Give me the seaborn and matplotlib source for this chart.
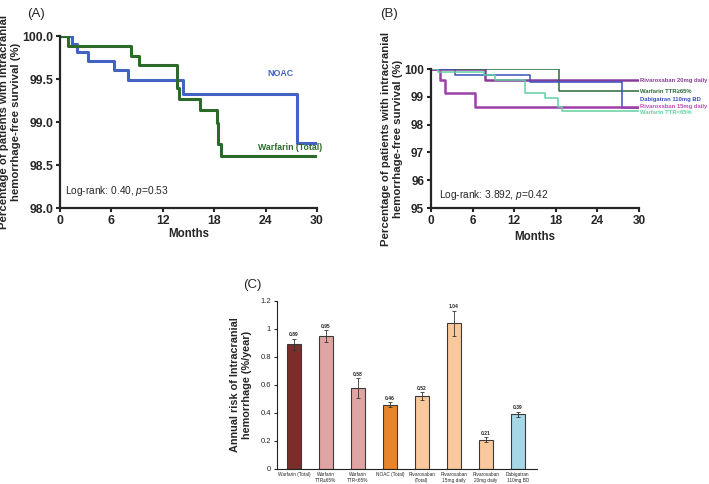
import pandas as pd
import seaborn as sns
import matplotlib.pyplot as plt

sns.set_style('ticks')
plt.rcParams['font.family'] = ['Liberation Sans', 'DejaVu Sans']
plt.rcParams['mathtext.fontset'] = 'custom'
plt.rcParams['mathtext.rm'] = 'Liberation Sans'
plt.rcParams['mathtext.it'] = 'Liberation Sans:italic'
plt.rcParams['mathtext.bf'] = 'Liberation Sans:bold'

# (A) Kaplan-Meier, NOAC vs warfarin
noac_t = [0, 1.4, 1.95, 3.3, 6.3, 7.9, 14.4, 27.7, 30]
noac_s = [100, 99.91, 99.81, 99.71, 99.6, 99.49, 99.32, 98.76, 98.76]
warf_t = [0, 0.9, 8.3, 9.2, 13.7, 13.9, 16.4, 18.3, 18.4, 18.8, 30]
warf_s = [100, 99.88, 99.77, 99.66, 99.4, 99.27, 99.14, 98.99, 98.75, 98.6, 98.6]

# (B) Kaplan-Meier, subgroups
riva20_t = [0, 7.8, 30]
riva20_s = [100, 99.6, 99.6]
warf_hi_t = [0, 18.4, 30]
warf_hi_s = [100, 99.2, 99.2]
dabi_t = [0, 3.4, 14.3, 27.6, 30]
dabi_s = [100, 99.8, 99.55, 98.6, 98.6]
riva15_t = [0, 1.3, 2.0, 6.3, 30]
riva15_s = [100, 99.6, 99.15, 98.62, 98.62]
warf_lo_t = [0, 1.0, 7.6, 9.2, 13.5, 16.5, 18.3, 18.9, 30]
warf_lo_s = [100, 99.88, 99.78, 99.62, 99.15, 98.97, 98.65, 98.49, 98.49]

# (C) annual risk bars
groups = ['Warfarin (Total)', 'Warfarin\nTTR\u226565%', 'Warfarin\nTTR<65%', 'NOAC (Total)',
          'Rivaroxaban\n(Total)', 'Rivaroxaban\n15mg daily', 'Rivaroxaban\n20mg daily',
          'Dabigatran\n110mg BD']
risk = [0.89, 0.95, 0.58, 0.46, 0.52, 1.04, 0.21, 0.39]
risk_err = [0.04, 0.04, 0.07, 0.015, 0.03, 0.09, 0.015, 0.02]
bar_colors = ['#7a2e2c', '#e0a4a3', '#e0a4a3', '#e8852b',
              '#f9c99d', '#f9c99d', '#f9c99d', '#a5d7e6']

fig = plt.figure(figsize=(7.09, 4.84), dpi=100)

ylab = 'Percentage of patients with intracranial\nhemorrhage-free survival (%)'

# ---------- panel A ----------
ax = fig.add_axes([0.0846, 0.5702, 0.3625, 0.3554])
sns.lineplot(x=noac_t, y=noac_s, drawstyle='steps-post', estimator=None, sort=False,
             color='#4262c4', lw=2.2, ax=ax)
sns.lineplot(x=warf_t, y=warf_s, drawstyle='steps-post', estimator=None, sort=False,
             color='#2b6a2b', lw=2.2, ax=ax)
ax.set_xlim(0, 30)
ax.set_ylim(98, 100)
ax.set_xticks([0, 6, 12, 18, 24, 30])
ax.set_yticks([98, 98.5, 99, 99.5, 100])
ax.set_yticklabels(['98.0', '98.5', '99.0', '99.5', '100.0'])
ax.tick_params(labelsize=8.8, width=1.5, length=3, pad=2)
for lab in ax.get_xticklabels() + ax.get_yticklabels():
    lab.set_fontweight('bold')
ax.set_xlabel('Months', fontsize=8.3, fontweight='bold', labelpad=1)
ax.set_ylabel(ylab, fontsize=8.2, fontweight='bold', labelpad=1)
for sp in ['left', 'bottom']:
    ax.spines[sp].set_linewidth(1.6)
sns.despine(ax=ax)
ax.text(24.2, 99.53, 'NOAC', color='#4262c4', fontsize=6.4, fontweight='bold')
ax.text(23.1, 98.67, 'Warfarin (Total)', color='#2b6a2b', fontsize=6.3, fontweight='bold')
ax.text(0.6, 98.16, r'Log-rank: 0.40, $\it{p}$=0.53', fontsize=7.3)
fig.text(0.038, 0.965, '(A)', fontsize=9.5)

# ---------- panel B ----------
bx = fig.add_axes([0.6079, 0.5702, 0.2934, 0.2872])
b_lines = [
    (riva20_t, riva20_s, '#8a3a9a', 1.8),
    (warf_hi_t, warf_hi_s, '#2b6a3a', 1.1),
    (dabi_t, dabi_s, '#3a50bd', 1.1),
    (riva15_t, riva15_s, '#9c3fa8', 1.8),
    (warf_lo_t, warf_lo_s, '#62cfa3', 1.1),
]
for t, s, c, w in b_lines:
    sns.lineplot(x=t, y=s, drawstyle='steps-post', estimator=None, sort=False,
                 color=c, lw=w, ax=bx)
bx.set_xlim(0, 30)
bx.set_ylim(95, 100)
bx.set_xticks([0, 6, 12, 18, 24, 30])
bx.set_yticks([95, 96, 97, 98, 99, 100])
bx.tick_params(labelsize=8.5, width=1.5, length=3, pad=2)
for lab in bx.get_xticklabels() + bx.get_yticklabels():
    lab.set_fontweight('bold')
bx.set_xlabel('Months', fontsize=8.3, fontweight='bold', labelpad=3)
bx.set_ylabel(ylab, fontsize=8.2, fontweight='bold', labelpad=1)
for sp in ['left', 'bottom']:
    bx.spines[sp].set_linewidth(1.6)
sns.despine(ax=bx)
b_labels = [('Rivaroxaban 20mg daily', 99.6, '#8a3a9a'),
            ('Warfarin TTR\u226565%', 99.2, '#2b6a3a'),
            ('Dabigatran 110mg BD', 98.9, '#3a50bd'),
            ('Rivaroxaban 15mg daily', 98.64, '#c24cb8'),
            ('Warfarin TTR<65%', 98.44, '#62cfa3')]
for txt, yv, c in b_labels:
    bx.text(30.2, yv, txt, color=c, fontsize=4.2, fontweight='bold', va='center',
            clip_on=False)
bx.text(1.2, 95.35, r'Log-rank: 3.892, $\it{p}$=0.42', fontsize=7.3)
fig.text(0.536, 0.965, '(B)', fontsize=9.5)

# ---------- panel C ----------
cx = fig.add_axes([0.3907, 0.031, 0.3667, 0.3471])
df_c = pd.DataFrame({'group': groups, 'risk': risk})
sns.barplot(data=df_c, x='group', y='risk', hue='group', palette=bar_colors,
            legend=False, width=0.42, saturation=1, edgecolor='#3a3a3a',
            linewidth=0.8, ax=cx)
cx.errorbar(range(len(groups)), risk, yerr=risk_err, fmt='none', ecolor='#333333',
            elinewidth=0.6, capsize=1.2, capthick=0.6)
for i, (v, e) in enumerate(zip(risk, risk_err)):
    cx.text(i, v + e + 0.01, f'{v:.2f}', ha='center', va='bottom', fontsize=3.6,
            fontweight='bold')
cx.set_xlim(-0.53, 7.6)
cx.set_ylim(0, 1.2)
cx.set_yticks([0, 0.2, 0.4, 0.6, 0.8, 1.0, 1.2])
cx.set_yticklabels(['0', '0.2', '0.4', '0.6', '0.8', '1', '1.2'])
cx.tick_params(axis='y', labelsize=5.5, width=0.8, length=2.5, pad=2)
cx.tick_params(axis='x', labelsize=3.4, length=0, pad=2)
cx.set_xlabel('')
cx.set_ylabel('Annual risk of Intracranial\nhemorrhage (%/year)', fontsize=7.8,
              fontweight='bold', labelpad=6)
for sp in ['left', 'bottom']:
    cx.spines[sp].set_linewidth(0.8)
    cx.spines[sp].set_color('#222222')
sns.despine(ax=cx)
fig.text(0.343, 0.405, '(C)', fontsize=9.5)

fig.savefig('out.png', dpi=100)
